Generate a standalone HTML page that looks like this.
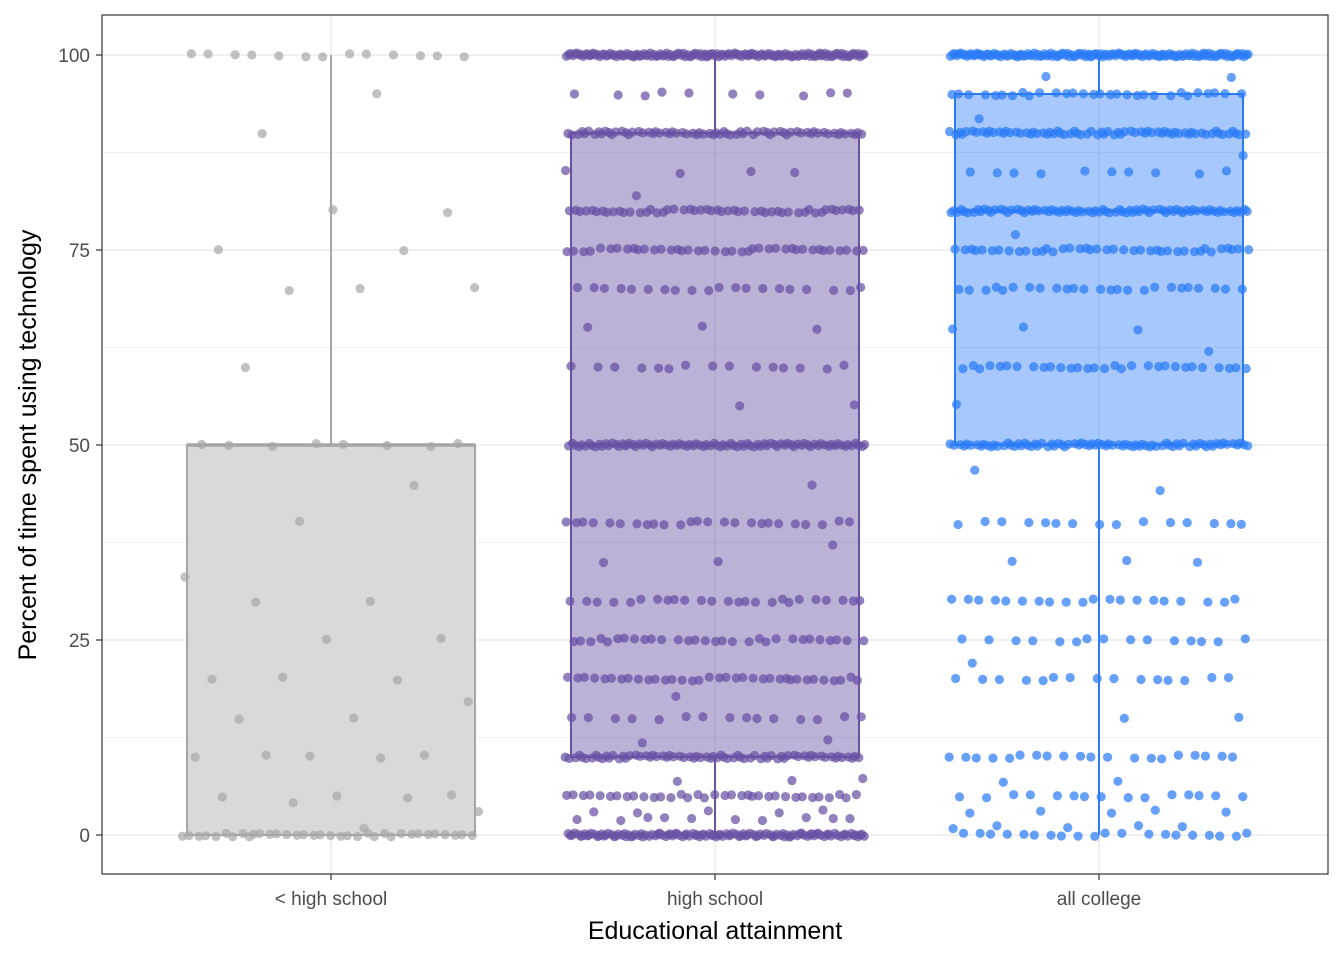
<!DOCTYPE html>
<html><head><meta charset="utf-8"><style>
html,body{margin:0;padding:0;background:#fff;}
svg{display:block;font-family:"Liberation Sans",Arial,sans-serif;}
</style></head><body>
<svg id="chart" width="1344" height="960">
<rect x="0" y="0" width="1344" height="960" fill="#fff"/>
<g id="grid"></g>
<g id="boxes"></g>
<g id="points"></g>
<rect x="102" y="15" width="1226" height="859" fill="none" stroke="#333" stroke-width="1.2"/>
<g id="axes"></g>
<text x="715" y="939" text-anchor="middle" font-size="25" fill="#000">Educational attainment</text>
<text transform="translate(36,445) rotate(-90)" text-anchor="middle" font-size="25" fill="#000">Percent of time spent using technology</text>
</svg>
<script>
const categories = ["< high school", "high school", "all college"];
const yTicks = [0, 25, 50, 75, 100];
const boxMin = [0, 0, 0];
const boxQ1 = [0, 10, 50];
const boxMedian = [50, 50, 80];
const boxQ3 = [50, 90, 95];
const boxMax = [100, 100, 100];
// [value, count] per group
const levelsLHS = [[100,13],[95,1],[90,1],[80,2],[75,2],[70,3],[60,1],[50,8],[45,1],[40,1],[33,1],[30,2],[25,2],[20,3],[17,1],[15,2],[10,5],[5,4],[4,1],[3,1],[1,1],[0,35]];
const levelsHS = [[100,150],[95,10],[90,70],[85,4],[82,1],[80,50],[75,40],[70,20],[65,3],[60,15],[55,2],[50,90],[45,1],[40,25],[37,1],[35,2],[30,25],[25,30],[20,35],[18,1],[15,15],[12,2],[10,70],[7,3],[5,35],[3,5],[2,10],[0,120]];
const levelsCol = [[100,150],[97,2],[95,30],[92,1],[90,70],[87,1],[85,10],[80,80],[77,1],[75,40],[70,25],[65,3],[62,1],[60,30],[55,1],[50,80],[47,1],[44,1],[40,15],[35,3],[30,20],[25,15],[22,1],[20,15],[15,2],[10,20],[7,2],[5,15],[3,5],[1,5],[0,20]];
const groupLevels = [levelsLHS, levelsHS, levelsCol];
const fills = ["#d9d9d9", "rgba(106,81,163,0.45)", "rgba(43,123,247,0.42)"];
const strokes = ["#a6a6a6", "#6a51a3", "#2b7bf7"];
const ptColors = ["rgba(166,166,166,0.7)", "rgba(106,81,163,0.72)", "rgba(43,123,247,0.72)"];

const NS = "http://www.w3.org/2000/svg";
const y = v => 835 - v * 7.8;
const x = i => 331 + i * 384;
const halfBox = 144, jit = 150;
function mk(tag, attrs, parent) {
  const e = document.createElementNS(NS, tag);
  for (const k in attrs) e.setAttribute(k, attrs[k]);
  parent.appendChild(e); return e;
}
const grid = document.getElementById("grid");
for (let v = 0; v <= 100; v += 12.5) {
  const l = mk("line", {x1:102, x2:1328, y1:y(v), y2:y(v), stroke:"#ebebeb", "stroke-width": v % 25 === 0 ? 1.6 : 0.8}, grid);
  
  
}
categories.forEach((c, i) => {
  const l = mk("line", {x1:x(i), x2:x(i), y1:15, y2:874, stroke:"#ebebeb", "stroke-width":1.6}, grid);
  
  
});
const boxes = document.getElementById("boxes");
categories.forEach((c, i) => {
  const g = mk("g", {}, boxes);
  
  
  mk("line", {x1:x(i), x2:x(i), y1:y(boxMax[i]), y2:y(boxQ3[i]), stroke:strokes[i], "stroke-width":2}, g);
  mk("line", {x1:x(i), x2:x(i), y1:y(boxQ1[i]), y2:y(boxMin[i]), stroke:strokes[i], "stroke-width":2}, g);
  mk("rect", {x:x(i)-halfBox, y:y(boxQ3[i]), width:2*halfBox, height:Math.max(0.5, y(boxQ1[i])-y(boxQ3[i])), fill:fills[i], stroke:strokes[i], "stroke-width":2}, g);
  mk("line", {x1:x(i)-halfBox, x2:x(i)+halfBox, y1:y(boxMedian[i]), y2:y(boxMedian[i]), stroke:strokes[i], "stroke-width":3.5}, g);
});
const pts = document.getElementById("points");
groupLevels.forEach((lv, i) => {
  let k = 0;
  lv.forEach(([v, n]) => {
    for (let j = 0; j < n; j++) {
      k++;
      const fx = ((k * 0.6180339) % 1) * 2 - 1;
      const fy = ((k * 0.7548776) % 1) * 2 - 1;
      const c = mk("circle", {cx: x(i) + fx * jit, cy: y(v + fy * 0.25), r: 4.6, fill: ptColors[i]}, pts);
      
      
    }
  });
});
const axes = document.getElementById("axes");
yTicks.forEach(v => {
  mk("line", {x1:96, x2:102, y1:y(v), y2:y(v), stroke:"#333", "stroke-width":1.2}, axes);
  const t = mk("text", {x:90, y:y(v)+7, "text-anchor":"end", "font-size":19, fill:"#4d4d4d"}, axes);
  t.textContent = v;
  
  
});
categories.forEach((c, i) => {
  mk("line", {x1:x(i), x2:x(i), y1:874, y2:880, stroke:"#333", "stroke-width":1.2}, axes);
  const t = mk("text", {x:x(i), y:905, "text-anchor":"middle", "font-size":19, fill:"#4d4d4d"}, axes);
  t.textContent = c;
  
  
});
</script>
</body></html>
